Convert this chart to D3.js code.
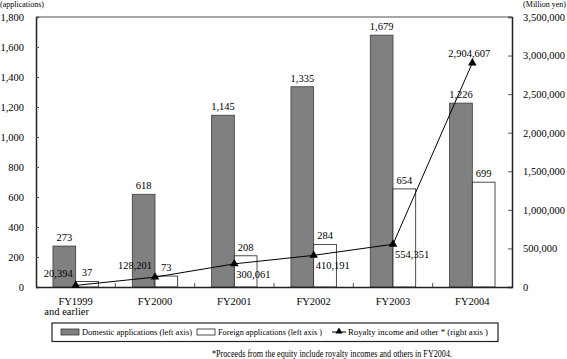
<!DOCTYPE html>
<html><head><meta charset="utf-8">
<script src="https://cdn.jsdelivr.net/npm/d3@7"></script>
<style>
body{margin:0;background:#fff;}
svg text{font-family:"Liberation Serif","Times New Roman",Times,serif !important;fill:#000;}
</style></head>
<body><svg id="c" width="567" height="359"></svg>
<script>
const categories = ["FY1999|and earlier","FY2000","FY2001","FY2002","FY2003","FY2004"];
const domestic = [273, 618, 1145, 1335, 1679, 1226];
const foreign = [37, 73, 208, 284, 654, 699];
const royalty = [20394, 128201, 300061, 410191, 554351, 2904607];
const leftTicks = [0,200,400,600,800,1000,1200,1400,1600,1800];
const rightTicks = [0,500000,1000000,1500000,2000000,2500000,3000000,3500000];

const svg = d3.select("#c");
const L=36, R=512, T=17, B=287;
const x = d3.scaleBand().domain(d3.range(categories.length)).range([L,R]).padding(0);
const yL = d3.scaleLinear().domain([0,1800]).range([B,T]);
const yR = d3.scaleLinear().domain([0,3500000]).range([B,T]);
const fmt = d3.format(",");
const bw = 22.7;

svg.append("line").attr("x1",L).attr("x2",R).attr("y1",T).attr("y2",T).attr("stroke","#8a8a8a").attr("stroke-width",1.5);

const g = svg.append("g");
categories.forEach((c,i)=>{
  const cx = x(i)+x.bandwidth()/2;
  g.append("rect").attr("x",cx-bw).attr("y",yL(domestic[i])).attr("width",bw).attr("height",B-yL(domestic[i]))
    .attr("fill","#808080").attr("stroke","#3a3a3a").attr("stroke-width",0.8);
  g.append("rect").attr("x",cx).attr("y",yL(foreign[i])).attr("width",bw).attr("height",B-yL(foreign[i]))
    .attr("fill","#fff").attr("stroke","#222").attr("stroke-width",0.8);
  g.append("text").attr("x",cx-bw/2).attr("y",yL(domestic[i])-5).attr("text-anchor","middle").attr("font-size",10.5).text(fmt(domestic[i]));
  g.append("text").attr("x",cx+bw/2).attr("y",yL(foreign[i])-5).attr("text-anchor","middle").attr("font-size",10.5).text(fmt(foreign[i]));
});

const axL = d3.axisLeft(yL).tickValues(leftTicks).tickSize(-3).tickPadding(12).tickFormat(fmt);
const gl = svg.append("g").attr("transform",`translate(${L},0)`).call(axL);
const axR = d3.axisRight(yR).tickValues(rightTicks).tickSize(-4).tickPadding(11).tickFormat(fmt);
const gr = svg.append("g").attr("transform",`translate(${R},0)`).call(axR);
const axB = d3.axisBottom(x).tickValues([]).tickSize(0);
const gb = svg.append("g").attr("transform",`translate(0,${B})`).call(axB);
[gl,gr,gb].forEach(a=>{
  a.attr("font-family",null);
  a.select(".domain").attr("stroke","#222").attr("stroke-width",1.5);
  a.selectAll(".tick line").attr("stroke","#555");
  a.selectAll(".tick text").attr("font-size",10.5).attr("fill","#000");
});
d3.range(1,categories.length).forEach(i=>{
  svg.append("line").attr("x1",x(i)).attr("x2",x(i)).attr("y1",B).attr("y2",B-4).attr("stroke","#555");
});
categories.forEach((c,i)=>{
  const cx = x(i)+x.bandwidth()/2;
  const parts = c.split("|");
  const t = svg.append("text").attr("x",cx).attr("y",305).attr("text-anchor","middle").attr("font-size",10.5);
  parts.forEach((p,j)=> t.append("tspan").attr("x", j===0?cx:cx-9).attr("dy", j===0?0:10).text(p));
});

const line = d3.line().x((d,i)=>x(i)+x.bandwidth()/2).y(d=>yR(d));
svg.append("path").datum(royalty).attr("d",line).attr("fill","none").attr("stroke","#000").attr("stroke-width",1);
const tri = d3.symbol().type(d3.symbolTriangle).size(32);
royalty.forEach((v,i)=>{
  const px = x(i)+x.bandwidth()/2, py = yR(v);
  svg.append("path").attr("d",tri()).attr("transform",`translate(${px},${py})`).attr("fill","#000");
  let tx=px, ty=py, anchor="start";
  if(i<2){ tx=px-3; ty=py-8; anchor="end"; }
  else if(i<5){ tx=px+2; ty=py+14; anchor="start"; }
  else { tx=px-3; ty=py-6; anchor="middle"; }
  svg.append("text").attr("x",tx).attr("y",ty).attr("text-anchor",anchor).attr("font-size",10.5).text(fmt(v));
});

svg.append("text").attr("x",0).attr("y",7).attr("font-size",8).text("(applications)");
svg.append("text").attr("x",566).attr("y",7).attr("text-anchor","end").attr("font-size",8).text("(Million yen)");

svg.append("rect").attr("x",52).attr("y",323).attr("width",446).attr("height",18.5).attr("fill","#fff").attr("stroke","#222").attr("stroke-width",1.2);
svg.append("rect").attr("x",61).attr("y",329).attr("width",18).attr("height",6).attr("fill","#808080").attr("stroke","#333").attr("stroke-width",0.8);
svg.append("text").attr("x",82).attr("y",335).attr("font-size",8.5).attr("textLength",110).attr("lengthAdjust","spacingAndGlyphs").text("Domestic applications (left axis)");
svg.append("rect").attr("x",197).attr("y",329).attr("width",18).attr("height",6).attr("fill","#fff").attr("stroke","#222").attr("stroke-width",0.8);
svg.append("text").attr("x",218).attr("y",335).attr("font-size",8.5).attr("textLength",104).attr("lengthAdjust","spacingAndGlyphs").text("Foreign applications (left axis )");
svg.append("line").attr("x1",332).attr("x2",346).attr("y1",332).attr("y2",332).attr("stroke","#000");
svg.append("path").attr("d",d3.symbol().type(d3.symbolTriangle).size(22)()).attr("transform","translate(339,331.5)").attr("fill","#000");
svg.append("text").attr("x",348).attr("y",335).attr("font-size",8.5).attr("textLength",140).attr("lengthAdjust","spacingAndGlyphs").text("Royalty income and other * (right axis )");

svg.append("text").attr("x",212).attr("y",357).attr("font-size",9.5).attr("textLength",240).attr("lengthAdjust","spacingAndGlyphs").text("*Proceeds from the equity include royalty incomes and others in FY2004.");
</script></body></html>
